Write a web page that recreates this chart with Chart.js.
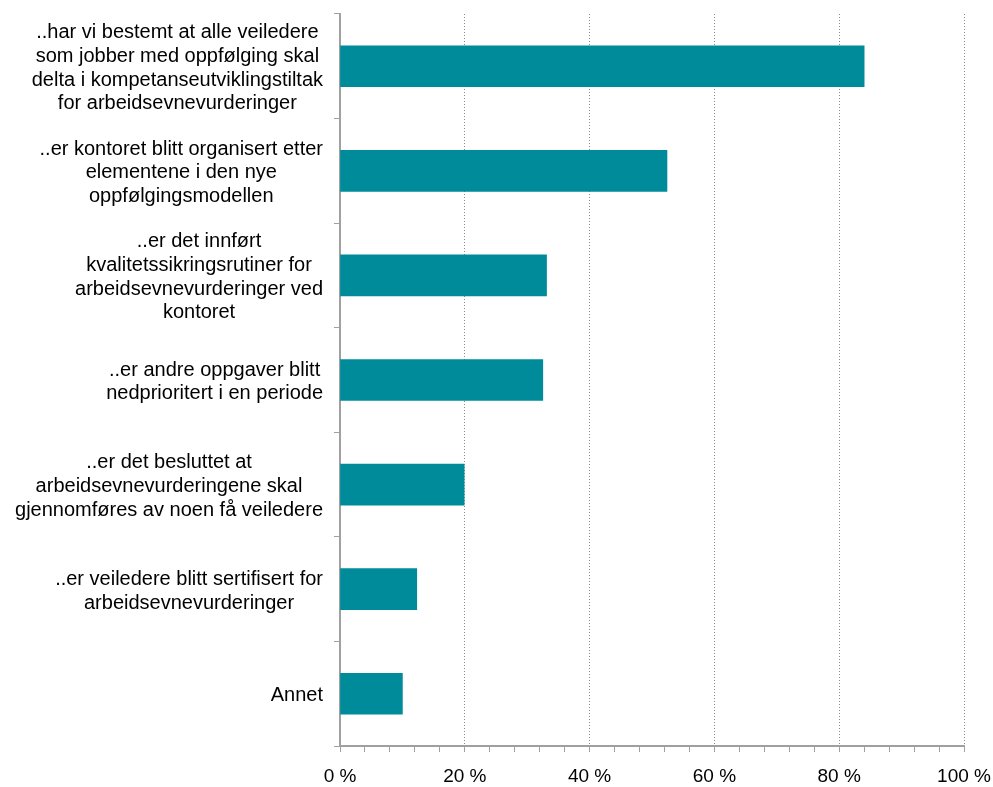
<!DOCTYPE html>
<html>
<head>
<meta charset="utf-8">
<script src="https://cdn.jsdelivr.net/npm/chart.js@4.4.1/dist/chart.umd.min.js"></script>
<style>
    html, body { margin: 0; padding: 0; background: #fff; }
    #wrap { width: 993px; height: 787px; }
</style>
</head>
<body>
<div id="wrap"><canvas id="chart"></canvas></div>
<script>
// survey answers, one line-split label per bar
const categories = [
    ["..har vi bestemt at alle veiledere", "som jobber med oppfølging skal", "delta i kompetanseutviklingstiltak", "for arbeidsevnevurderinger"],
    ["..er kontoret blitt organisert etter", "elementene i den nye", "oppfølgingsmodellen"],
    ["..er det innført", "kvalitetssikringsrutiner for", "arbeidsevnevurderinger ved", "kontoret"],
    ["..er andre oppgaver blitt", "nedprioritert i en periode"],
    ["..er det besluttet at", "arbeidsevnevurderingene skal", "gjennomføres av noen få veiledere"],
    ["..er veiledere blitt sertifisert for", "arbeidsevnevurderinger"],
    ["Annet"]
];
const shares = [84.0, 52.4, 33.1, 32.5, 19.9, 12.3, 10.0];
const xTickLabels = ["0 %", "20 %", "40 %", "60 %", "80 %", "100 %"];

const barColor = "#008b9a";
const axisColor = "#a0a0a0";
const fontFamily = "'Liberation Sans', Arial, sans-serif";

// category labels: each block is centred on its own widest line,
// and the blocks share a right edge next to the axis
const blockLabels = {
    id: "blockLabels",
    afterDraw(chart) {
        const ctx = chart.ctx;
        const y = chart.scales.y;
        const rightEdge = y.right - 17;
        const lineH = 23.7;
        ctx.save();
        ctx.font = "20px " + fontFamily;
        ctx.fillStyle = "#000";
        ctx.textAlign = "center";
        ctx.textBaseline = "middle";
        chart.data.labels.forEach((lines, i) => {
            const widest = Math.max(...lines.map((l) => ctx.measureText(l).width));
            const cx = rightEdge - widest / 2;
            const cy = y.getPixelForTick(i) + 2;
            const top = cy - ((lines.length - 1) * lineH) / 2;
            lines.forEach((l, k) => ctx.fillText(l, cx, top + k * lineH));
        });
        ctx.restore();
    }
};

new Chart("chart", {
    type: "bar",
    data: {
        labels: categories,
        datasets: [{
            data: shares,
            backgroundColor: barColor,
            borderWidth: 0,
            barThickness: 41
        }]
    },
    options: {
        indexAxis: "y",
        responsive: true,
        maintainAspectRatio: false,
        animation: false,
        layout: { padding: { top: 14, right: 29, left: 0, bottom: 0 } },
        plugins: {
            legend: { display: false },
            tooltip: { enabled: false }
        },
        scales: {
            x: {
                min: 0,
                max: 100,
                ticks: {
                    stepSize: 4,
                    autoSkip: false,
                    maxRotation: 0,
                    padding: 13,
                    color: "#000",
                    font: { family: fontFamily, size: 19 },
                    callback: (v) => (v % 20 === 0 ? xTickLabels[v / 20] : "")
                },
                grid: {
                    color: (ctx) => (ctx.tick && ctx.tick.value % 20 === 0 && ctx.tick.value !== 0 ? "#8c8c8c" : "transparent"),
                    tickColor: axisColor,
                    tickLength: 6,
                    lineWidth: 1,
                    drawOnChartArea: true
                },
                border: { display: true, color: axisColor, width: 2, dash: [1, 2] },
                afterFit: (s) => {
                    s.height = 41;
                    s.paddingLeft = 0;
                    s.paddingRight = 0;
                }
            },
            y: {
                offset: true,
                ticks: { display: false },
                grid: {
                    offset: true,
                    drawOnChartArea: false,
                    tickColor: axisColor,
                    tickLength: 6
                },
                border: { display: true, color: axisColor, width: 2 },
                afterFit: (s) => {
                    s.width = 340;
                    s.paddingTop = 0;
                    s.paddingBottom = 0;
                }
            }
        }
    },
    plugins: [blockLabels]
});
</script>
</body>
</html>
